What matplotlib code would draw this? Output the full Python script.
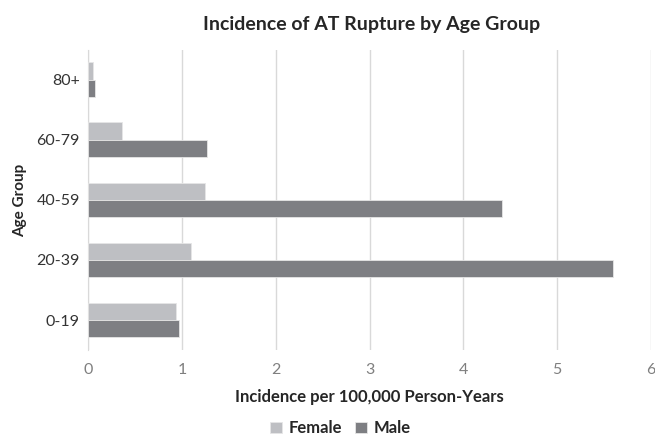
import matplotlib
matplotlib.use("Agg")
import matplotlib.pyplot as plt
import numpy as np

plt.rcParams['font.family'] = ['Lato', 'DejaVu Sans']

groups = ['0-19', '20-39', '40-59', '60-79', '80+']
female = [0.94, 1.10, 1.25, 0.36, 0.05]
male = [0.97, 5.60, 4.41, 1.27, 0.07]

fig = plt.figure(figsize=(6.55, 4.37), dpi=100)
ax = fig.add_axes([0.1344, 0.199, 0.8595, 0.687])

y = np.arange(len(groups))
h = 0.29
ax.barh(y + h / 2, female, height=h, color='#BEBFC3', edgecolor='#E6E6E6', linewidth=0.6, label='Female', zorder=3)
ax.barh(y - h / 2, male, height=h, color='#7E7F83', edgecolor='#E6E6E6', linewidth=0.6, label='Male', zorder=3)

ax.set_xlim(0, 6)
ax.set_ylim(-0.5, 4.5)
ax.set_xticks(range(7))
ax.set_yticks(y)
ax.set_yticklabels(groups)
ax.grid(axis='x', color='#D9D9D9', linewidth=1, zorder=0)
for s in ['top', 'right', 'bottom']:
    ax.spines[s].set_visible(False)
ax.spines['left'].set_color('#D9D9D9')
ax.tick_params(axis='both', length=0)
ax.tick_params(axis='x', pad=9, labelsize=11.5, labelcolor='#7F7F7F')
ax.tick_params(axis='y', pad=6, labelsize=11.5, labelcolor='#333333')

ax.set_xlabel('Incidence per 100,000 Person-Years', fontsize=12, fontweight='bold', color='#262626', labelpad=9)
ax.set_ylabel('Age Group', fontsize=11, fontweight='bold', color='#262626')
ax.yaxis.set_label_coords(-0.108, 0.5)
fig.text(0.568, 0.943, 'Incidence of AT Rupture by Age Group', ha='center', va='center',
         fontsize=14, fontweight='bold', color='#262626')

leg = fig.legend(loc='center', bbox_to_anchor=(0.52, 0.02), ncol=2, frameon=False,
                 handlelength=0.7, handleheight=0.7, handletextpad=0.4, columnspacing=0.8,
                 prop={'weight': 'bold', 'size': 12})
for t in leg.get_texts():
    t.set_color('#262626')

fig.savefig('out.png', dpi=100)
